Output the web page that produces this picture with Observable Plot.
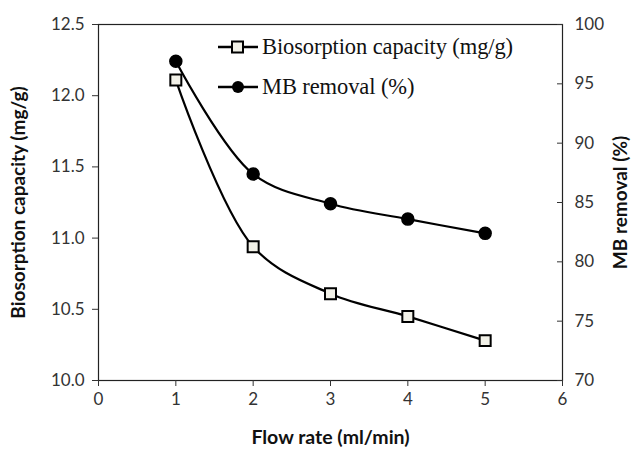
<!DOCTYPE html>
<html>
<head>
<meta charset="utf-8">
<script src="https://cdn.jsdelivr.net/npm/d3@7"></script>
<script src="https://cdn.jsdelivr.net/npm/@observablehq/plot@0.6"></script>
<style>
  body { margin: 0; background: #fff; }
  #wrap { position: relative; width: 632px; height: 454px; }
  #legend { position: absolute; left: 217px; top: 27px; font-family: "Liberation Serif", "Times New Roman", serif; font-size: 22.5px; color: #111; letter-spacing: -0.1px; }
  #legend div { display: flex; align-items: center; height: 40px; }
  #legend svg { margin-right: 3px; }
</style>
</head>
<body>
<div id="wrap"></div>
<script>
const flowRate = [1, 2, 3, 4, 5];
const biosorption = [12.11, 10.94, 10.61, 10.45, 10.28];
const mbRemoval = [96.9, 87.4, 84.9, 83.6, 82.4];
const xTicks = [0, 1, 2, 3, 4, 5, 6];
const leftTicks = [10.0, 10.5, 11.0, 11.5, 12.0, 12.5];
const rightTicks = [70, 75, 80, 85, 90, 95, 100];
const seriesNames = ["Biosorption capacity (mg/g)", "MB removal (%)"];

// map right-axis values (70–100) onto left-axis domain (10–12.5)
const toLeft = v => 10 + (v - 70) / 30 * 2.5;
const toRight = v => 70 + (v - 10) / 2.5 * 30;

const bio = flowRate.map((x, i) => ({x, y: biosorption[i]}));
const mb = flowRate.map((x, i) => ({x, y: toLeft(mbRemoval[i])}));

const font = "Lato, 'Open Sans', sans-serif";

const chart = Plot.plot({
  width: 632,
  height: 454,
  marginLeft: 98,
  marginRight: 70,
  marginTop: 24,
  marginBottom: 74,
  style: {fontFamily: font, fontSize: "17px", color: "#333", background: "#fff"},
  x: {domain: [0, 6]},
  y: {domain: [10, 12.5]},
  marks: [
    Plot.frame({stroke: "#222", strokeWidth: 1.2}),
    Plot.axisX({ticks: xTicks, tickSize: 6, tickPadding: 6, tickFormat: d => d, label: null, fontSize: 17}),
    Plot.axisY({ticks: leftTicks, tickSize: 6, tickPadding: 8, tickFormat: d => d.toFixed(1), label: null, fontSize: 17}),
    Plot.axisY({anchor: "right", ticks: rightTicks.map(toLeft), tickSize: -6, tickPadding: 18, tickFormat: d => Math.round(toRight(d)), label: null, fontSize: 17}),
    Plot.text([seriesNames[0]], {frameAnchor: "left", dx: -80, rotate: -90, textAnchor: "middle", text: d => d, fontWeight: "bold", fontSize: 19, fill: "#111"}),
    Plot.text([seriesNames[1]], {frameAnchor: "right", dx: 58, rotate: -90, textAnchor: "middle", text: d => d, fontWeight: "bold", fontSize: 19, fill: "#111"}),
    Plot.text(["Flow rate (ml/min)"], {frameAnchor: "bottom", dy: 63, textAnchor: "middle", text: d => d, fontWeight: "bold", fontSize: 19.5, fill: "#111"}),
    Plot.line(bio, {x: "x", y: "y", curve: "catmull-rom", stroke: "#000", strokeWidth: 2.2}),
    Plot.line(mb, {x: "x", y: "y", curve: "catmull-rom", stroke: "#000", strokeWidth: 2.2}),
    Plot.dot(bio, {x: "x", y: "y", symbol: "square", r: 6.2, fill: "#f2f1e8", stroke: "#000", strokeWidth: 2}),
    Plot.dot(mb, {x: "x", y: "y", symbol: "circle", r: 6, fill: "#000", stroke: "#000"})
  ]
});

const wrap = document.getElementById("wrap");
wrap.appendChild(chart);

const legend = document.createElement("div");
legend.id = "legend";
legend.innerHTML = `
  <div><svg width="42" height="14"><line x1="1" y1="7" x2="41" y2="7" stroke="#000" stroke-width="2.5"/><rect x="15" y="1.5" width="11" height="11" fill="#f2f1e8" stroke="#000" stroke-width="2"/></svg><span>${seriesNames[0]}</span></div>
  <div><svg width="42" height="14"><line x1="1" y1="7" x2="41" y2="7" stroke="#000" stroke-width="2.5"/><circle cx="21" cy="7" r="6" fill="#000"/></svg><span>${seriesNames[1]}</span></div>`;
wrap.appendChild(legend);
</script>
</body>
</html>
